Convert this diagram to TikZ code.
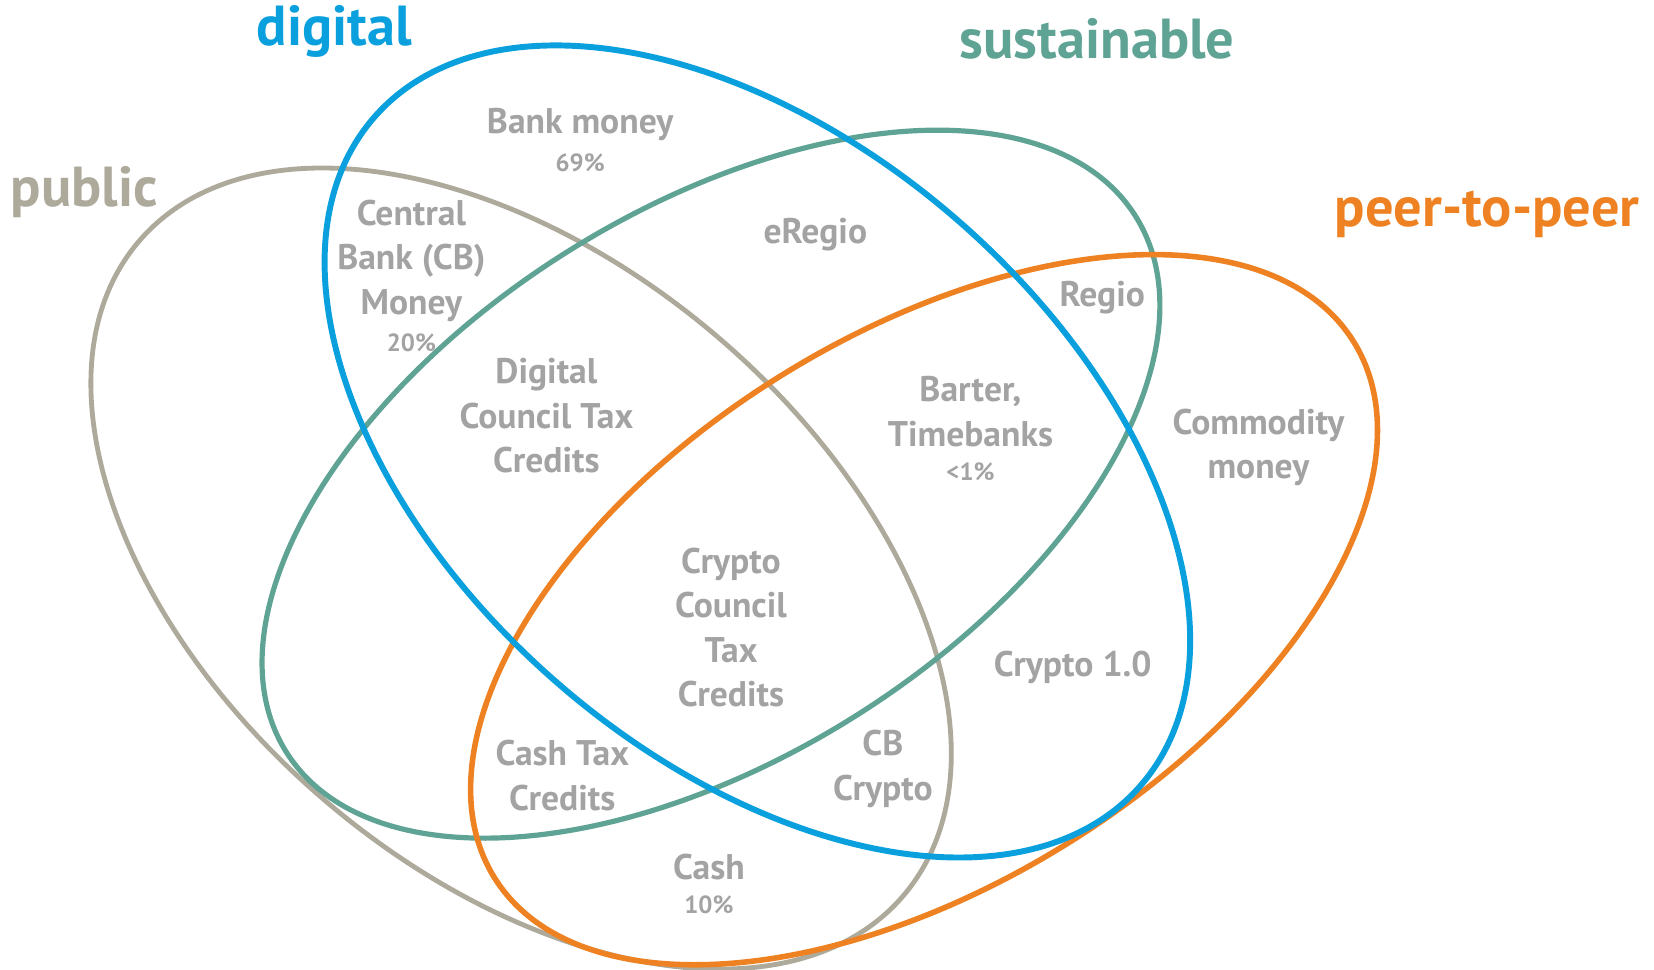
\documentclass[tikz,border=0pt]{standalone}
\usepackage{fontspec}
\setmainfont{PT Sans}
\definecolor{digiblue}{HTML}{0A9FDD}
\definecolor{sustgreen}{HTML}{5FA394}
\definecolor{pubgray}{HTML}{ADAA9B}
\definecolor{p2porange}{HTML}{EE8223}
\definecolor{txtgray}{HTML}{A3A3A3}
\begin{document}
\begin{tikzpicture}[
    x=0.01cm, y=-0.01cm,
    lbl/.style ={
        text=txtgray,
        font=\bfseries\fontsize{9.6}{12}\selectfont,
        align=center,
        inner sep=0pt
    },
    pct/.style ={
        text=txtgray,
        font=\bfseries\fontsize{6.7}{8}\selectfont,
        inner sep=0pt
    },
    setname/.style ={
        font=\bfseries\fontsize{15.2}{18}\selectfont,
        inner sep=0pt
    }
    ]
    \useasboundingbox (0,0) rectangle (1568,919);

    % the four sets: colour/width/centre/angle/radii
    \foreach \col/\lw/\ctr/\ang/\rx/\ry in {{pubgray/1.3/(494,539)/-40.6/477/288},
                                            {sustgreen/1.4/(674,459)/32.3/476/259},
                                            {p2porange/1.5/(876,578)/32/480/260},
                                            {digiblue/1.6/(718,428)/-41.1/482/290}}
        \draw[\col, line width=\lw pt, rotate around={\ang:\ctr}] \ctr ellipse [x radius=\rx, y radius=\ry];

    % set names
    \foreach \x/\pos/\col/\txt in {{digital/(317,30)/digiblue/digital},
                                   {sustainable/(1040,37)/sustgreen/sustainable},
                                   {public/(80,182)/pubgray/public},
                                   {ptp/(1410,203)/p2porange/peer-to-peer}}
        \node[setname, text=\col] (\x) at \pos {\txt};

    % regions
    \foreach \x/\pos/\txt in {{bank/(550,118)/Bank money},
                              {cbm/(390,247)/Central\\Bank (CB)\\Money},
                              {eregio/(773,222)/eRegio},
                              {regio/(1045,282)/Regio},
                              {dctc/(518,394)/Digital\\Council Tax\\Credits},
                              {barter/(920,390)/{Barter,\\Timebanks}},
                              {commodity/(1193,424)/Commodity\\money},
                              {cctc/(693,595)/Crypto\\Council\\Tax\\Credits},
                              {crypto/(1017,633)/Crypto 1.0},
                              {cashtc/(533,735)/Cash Tax\\Credits},
                              {cbcrypto/(837,729)/CB\\Crypto},
                              {cash/(672,822)/Cash}}
        \node[lbl] (\x) at \pos {\txt};

    \foreach \x/\pos/\txt in {{p69/(550,154)/69\%}, {p20/(390,325)/20\%},
                              {p1/(920,447)/<1\%}, {p10/(672,858)/10\%}}
        \node[pct] (\x) at \pos {\txt};

\end{tikzpicture}
\end{document}
